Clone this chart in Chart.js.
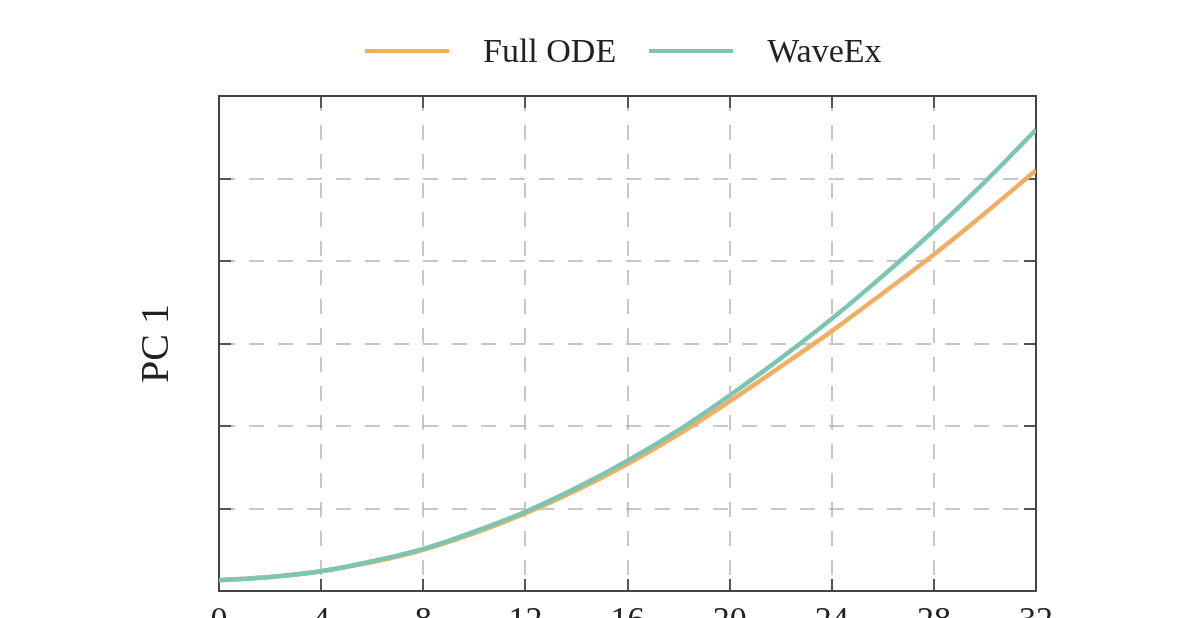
<!DOCTYPE html>
<html>
<head>
<meta charset="utf-8">
<script src="https://cdn.jsdelivr.net/npm/chart.js@4"></script>
<style>
    body { margin: 0; background: #fff; }
    #frame { position: relative; width: 1200px; height: 618px; overflow: hidden; }
    #wrap { position: absolute; left: 0; top: 0; width: 1200px; height: 660px; }
    #legend {
        position: absolute; left: 365px; top: 26px; height: 50px;
        display: flex; align-items: center;
        font-family: "Liberation Serif", serif; font-size: 34px; color: #222;
    }
    .swatch { width: 84px; height: 4px; margin-right: 34px; }
    .label { margin-right: 33px; }
</style>
</head>
<body>
<div id="frame">
    <div id="wrap"><canvas id="grafico"></canvas></div>
    <div id="legend"></div>
</div>
<script>
// valores
const tiempos = [0, 2, 4, 6, 8, 10, 12, 14, 16, 18, 20, 22, 24, 26, 28, 30, 32];
const fullOde = [0.13, 0.17, 0.24, 0.35, 0.50, 0.70, 0.94, 1.22, 1.54, 1.90, 2.30, 2.72, 3.15, 3.61, 4.08, 4.58, 5.10];
const waveEx = [0.13, 0.17, 0.24, 0.36, 0.51, 0.72, 0.96, 1.25, 1.58, 1.95, 2.37, 2.82, 3.30, 3.82, 4.37, 4.96, 5.59];
const nombres = ['Full ODE', 'WaveEx'];
const colores = ['#f2ad62', '#7cc5b3'];
const xTicks = { min: 0, max: 32, step: 4 };
const yTicks = { min: 0, max: 6, step: 1 };

const fuente = '"Liberation Serif", "Times New Roman", serif';

function puntos(serie) {
    return tiempos.map(function (t, i) { return { x: t, y: serie[i] }; });
}

// leyenda en html, centrada sobre el area del grafico
const leyenda = document.getElementById('legend');
nombres.forEach(function (nombre, i) {
    leyenda.insertAdjacentHTML('beforeend',
        '<span class="swatch" style="background:' + colores[i] + '"></span>' +
        '<span class="label">' + nombre + '</span>');
});

const rejilla = {
    color: 'rgba(175,175,175,0.7)',
    lineWidth: 2,
    tickLength: -12,
    tickColor: '#555',
    tickWidth: 2,
    tickBorderDash: []
};
const borde = { color: '#444', width: 2, dash: [15, 14] };
const bordeSolo = { color: '#444', width: 2 };

const ctx = document.getElementById('grafico').getContext('2d');
const myChart = new Chart(ctx, {
    type: 'line',
    data: {
        datasets: [
            // WaveEx se dibuja encima (order menor)
            { label: nombres[0], data: puntos(fullOde), borderColor: colores[0], order: 1 },
            { label: nombres[1], data: puntos(waveEx), borderColor: colores[1], order: 0 }
        ]
    },
    options: {
        responsive: true,
        maintainAspectRatio: false,
        animation: false,
        layout: { padding: { top: 96, right: 164, bottom: 0, left: 0 } },
        elements: {
            line: { borderWidth: 4.5, tension: 0.4, cubicInterpolationMode: 'monotone', fill: false },
            point: { radius: 0 }
        },
        plugins: {
            legend: { display: false },
            tooltip: { enabled: false }
        },
        scales: {
            x: {
                type: 'linear',
                position: 'bottom',
                min: xTicks.min, max: xTicks.max,
                ticks: { stepSize: xTicks.step, color: '#222', padding: 22, font: { family: fuente, size: 34 } },
                grid: rejilla,
                border: borde,
                afterFit: function (scale) { scale.height = 69; }
            },
            y: {
                type: 'linear',
                position: 'left',
                min: yTicks.min, max: yTicks.max,
                ticks: { stepSize: yTicks.step, display: false },
                grid: rejilla,
                border: borde,
                title: {
                    display: true,
                    text: 'PC 1',
                    color: '#222',
                    font: { family: fuente, size: 40 },
                    padding: { top: 133, bottom: 0 }
                },
                afterFit: function (scale) { scale.width = 219; }
            },
            x2: {
                type: 'linear',
                position: 'top',
                min: xTicks.min, max: xTicks.max,
                ticks: { stepSize: xTicks.step, display: false },
                grid: Object.assign({}, rejilla, { drawOnChartArea: false }),
                border: bordeSolo,
                afterFit: function (scale) { scale.height = 0; }
            },
            y2: {
                type: 'linear',
                position: 'right',
                min: yTicks.min, max: yTicks.max,
                ticks: { stepSize: yTicks.step, display: false },
                grid: Object.assign({}, rejilla, { drawOnChartArea: false }),
                border: bordeSolo,
                afterFit: function (scale) { scale.width = 0; }
            }
        }
    }
});
</script>
</body>
</html>
